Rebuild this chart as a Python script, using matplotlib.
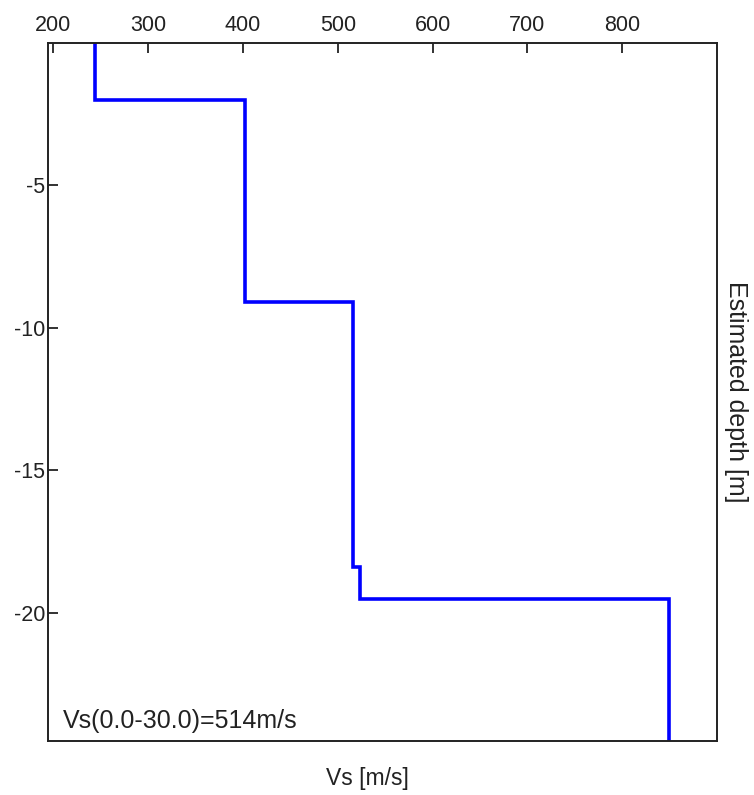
import matplotlib
matplotlib.use('Agg')
import matplotlib.pyplot as plt

plt.rcParams['font.family'] = ['Liberation Sans', 'DejaVu Sans']
plt.rcParams['axes.unicode_minus'] = False

# layer tops / bottoms [m] and shear wave velocity [m/s]
layer_top = [0.0, 2.0, 9.1, 18.4, 19.5]
layer_bottom = [2.0, 9.1, 18.4, 19.5, 24.5]
vs_layer = [244, 402, 516, 523, 849]
vs30_text = 'Vs(0.0-30.0)=514m/s'

x_ticks = [200, 300, 400, 500, 600, 700, 800]
y_ticks = [-5, -10, -15, -20]

# build the step profile from the layers
prof_x = []
prof_y = []
for top, bot, v in zip(layer_top, layer_bottom, vs_layer):
    prof_x += [v, v]
    prof_y += [-top, -bot]

fig = plt.figure(figsize=(7.54, 7.95), dpi=100)
ax = fig.add_axes([0.0637, 0.0679, 0.8873, 0.8780])

ax.plot(prof_x, prof_y, color='#0000FF', linewidth=2.6, solid_joinstyle='miter')

ax.set_xlim(194.5, 900)
ax.set_ylim(-24.5, 0)
ax.xaxis.tick_top()
ax.set_xticks(x_ticks)
ax.set_yticks(y_ticks)
ax.tick_params(direction='in', length=7, width=1.3, labelsize=15.5, colors='#222222', pad=2)
ax.tick_params(axis='x', pad=5)
for sp in ax.spines.values():
    sp.set_linewidth(1.4)
    sp.set_color('#222222')

ax.yaxis.set_label_position('right')
ax.set_ylabel('Estimated depth [m]', fontsize=18, color='#222222', rotation=-90, labelpad=22)
fig.text(0.487, 0.0126, 'Vs [m/s]', fontsize=16.5, color='#222222', ha='center', va='baseline')

ax.text(0.022, 0.011, vs30_text, transform=ax.transAxes, fontsize=18, color='#222222',
        ha='left', va='bottom')

fig.savefig('out.png', dpi=100)
